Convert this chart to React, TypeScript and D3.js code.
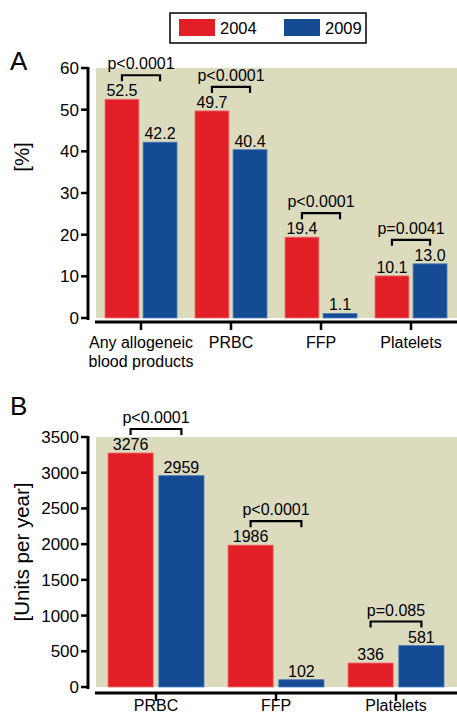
import React from "react";
import * as d3 from "d3";

const FONT = "'Liberation Sans', Arial, Helvetica, sans-serif";

const seriesYears = ["2004", "2009"];
const seriesColors = ["#e21f26", "#154b92"];
const seriesEdges = ["#f07070", "#4f7cc0"];

// panel A: share of patients
const categoriesA = ["Any allogeneic\nblood products", "PRBC", "FFP", "Platelets"];
const valuesA2004 = [52.5, 49.7, 19.4, 10.1];
const valuesA2009 = [42.2, 40.4, 1.1, 13.0];
const pLabelsA = ["p<0.0001", "p<0.0001", "p<0.0001", "p=0.0041"];
const ticksA = [0, 10, 20, 30, 40, 50, 60];

// panel B: units per year
const categoriesB = ["PRBC", "FFP", "Platelets"];
const valuesB2004 = [3276, 1986, 336];
const valuesB2009 = [2959, 102, 581];
const pLabelsB = ["p<0.0001", "p<0.0001", "p=0.085"];
const ticksB = [0, 500, 1000, 1500, 2000, 2500, 3000, 3500];

type PanelProps = {
  letter: string;
  letterY: number;
  categories: string[];
  v2004: number[];
  v2009: number[];
  pLabels: string[];
  ticks: number[];
  yTop: number;
  yBottom: number;
  axisGap: number;
  xLabelGap: number;
  yLabel: string;
  yLabelY: number;
  fmt: (v: number) => string;
};

const Panel = (p: PanelProps) => {
  const x0 = d3.scaleBand().domain(p.categories).range([96, 456]);
  const bw = x0.bandwidth();
  const x1 = d3
    .scaleBand()
    .domain(seriesYears)
    .range([bw * 0.1, bw * 0.9])
    .paddingInner(0.11);
  const y = d3
    .scaleLinear()
    .domain([0, d3.max(p.ticks) as number])
    .range([p.yBottom, p.yTop]);
  const axisY = p.yBottom + p.axisGap;

  return (
    <g>
      <text x={10} y={p.letterY} fontSize={26} fontFamily={FONT}>
        {p.letter}
      </text>
      <rect x={96} y={p.yTop} width={361} height={p.yBottom - p.yTop} fill="#dcdbbd" />

      {/* y axis */}
      <line x1={88} x2={88} y1={p.yTop - 1} y2={p.yBottom + 2} stroke="#000" strokeWidth={3} />
      {p.ticks.map((t) => (
        <g key={t}>
          <line x1={81} x2={88} y1={y(t)} y2={y(t)} stroke="#000" strokeWidth={2.5} />
          <text
            x={79}
            y={y(t)}
            dy="0.35em"
            textAnchor="end"
            fontSize={17}
            fontFamily={FONT}
          >
            {t}
          </text>
        </g>
      ))}
      <text
        transform={`translate(29,${p.yLabelY}) rotate(-90)`}
        textAnchor="middle"
        fontSize={20.5}
        fontFamily={FONT}
      >
        {p.yLabel}
      </text>

      {/* x axis */}
      <line x1={95} x2={457} y1={axisY} y2={axisY} stroke="#000" strokeWidth={3} />
      {p.categories.map((c) => {
        const cx = (x0(c) as number) + bw / 2;
        return (
          <g key={c}>
            <line x1={cx} x2={cx} y1={axisY} y2={axisY + 8} stroke="#000" strokeWidth={2.5} />
            <text
              x={cx}
              y={axisY + p.xLabelGap}
              textAnchor="middle"
              fontSize={16}
              fontFamily={FONT}
            >
              {c.split("\n").map((line, i) => (
                <tspan key={i} x={cx} dy={i === 0 ? 0 : 18.5}>
                  {line}
                </tspan>
              ))}
            </text>
          </g>
        );
      })}

      {/* bars */}
      {p.categories.map((c, i) => {
        const vals = [p.v2004[i], p.v2009[i]];
        const centers = seriesYears.map(
          (s) => (x0(c) as number) + (x1(s) as number) + x1.bandwidth() / 2
        );
        const by = Math.min(y(vals[0]), y(vals[1])) - 24;
        return (
          <g key={c}>
            {seriesYears.map((s, j) => (
              <g key={s}>
                <rect
                  x={(x0(c) as number) + (x1(s) as number)}
                  y={y(vals[j])}
                  width={x1.bandwidth()}
                  height={p.yBottom - y(vals[j])}
                  fill={seriesColors[j]}
                  stroke={seriesEdges[j]}
                  strokeWidth={0.8}
                />
                <text
                  x={centers[j]}
                  y={y(vals[j]) - 3}
                  textAnchor="middle"
                  fontSize={16}
                  fontFamily={FONT}
                >
                  {p.fmt(vals[j])}
                </text>
              </g>
            ))}
            <path
              d={`M${centers[0]},${by + 6}V${by}H${centers[1]}V${by + 6}`}
              fill="none"
              stroke="#000"
              strokeWidth={2.2}
            />
            <text
              x={(centers[0] + centers[1]) / 2}
              y={by - 6}
              textAnchor="middle"
              fontSize={16}
              fontFamily={FONT}
            >
              {p.pLabels[i]}
            </text>
          </g>
        );
      })}
    </g>
  );
};

const App = () => {
  return (
    <svg
      width={457}
      height={715}
      style={{ position: "absolute", left: 0, top: 0, background: "#fff" }}
    >
      {/* legend */}
      <rect x={170} y={13} width={196} height={30} fill="#fff" stroke="#000" strokeWidth={1.5} />
      {seriesYears.map((s, j) => (
        <g key={s}>
          <rect x={179 + j * 105} y={19} width={36} height={17} fill={seriesColors[j]} />
          <text x={220 + j * 105} y={34} fontSize={16.5} fontFamily={FONT}>
            {s}
          </text>
        </g>
      ))}

      <Panel
        letter="A"
        letterY={70}
        categories={categoriesA}
        v2004={valuesA2004}
        v2009={valuesA2009}
        pLabels={pLabelsA}
        ticks={ticksA}
        yTop={68}
        yBottom={318}
        axisGap={4}
        xLabelGap={26}
        yLabel="[%]"
        yLabelY={157}
        fmt={(v) => v.toFixed(1)}
      />
      <Panel
        letter="B"
        letterY={415}
        categories={categoriesB}
        v2004={valuesB2004}
        v2009={valuesB2009}
        pLabels={pLabelsB}
        ticks={ticksB}
        yTop={437}
        yBottom={687}
        axisGap={6}
        xLabelGap={17.5}
        yLabel="[Units per year]"
        yLabelY={552}
        fmt={(v) => String(v)}
      />
    </svg>
  );
};

export default App;
